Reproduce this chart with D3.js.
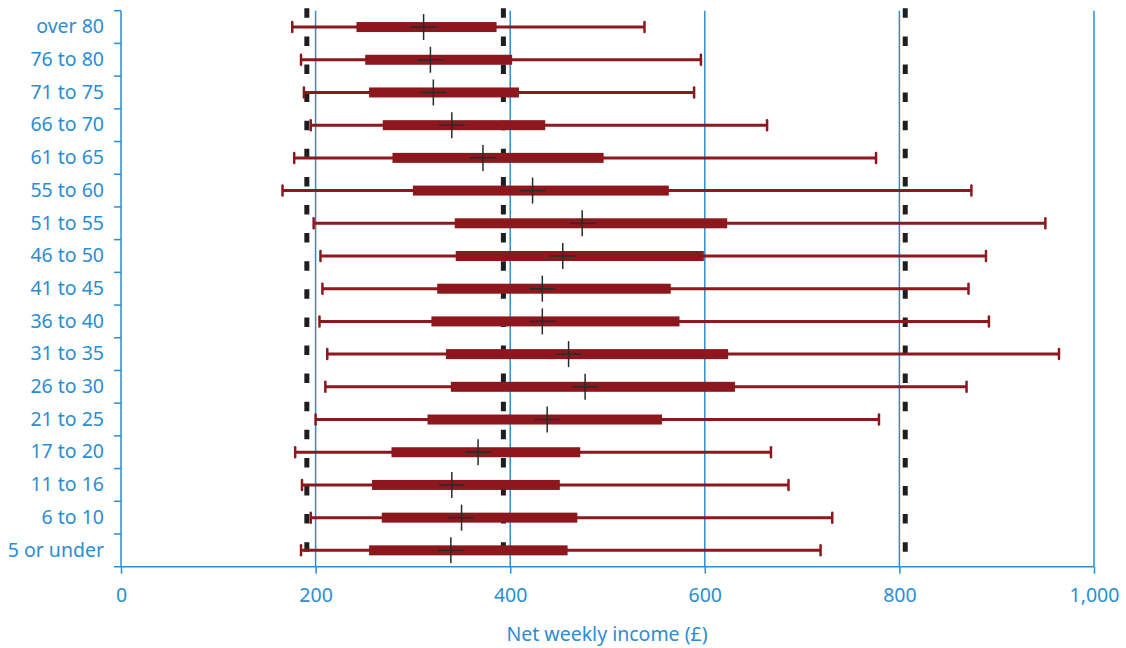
<!DOCTYPE html>
<html>
<head>
<meta charset="utf-8">
<script src="https://cdn.jsdelivr.net/npm/d3@7"></script>
<style>
  body { margin: 0; background: #fff; }
  text { font-family: "Noto Sans", "Open Sans", sans-serif; }
</style>
</head>
<body>
<div class="canvas"></div>
<script>
const svgWidth = 1126;
const svgHeight = 648;

// Age groups, top to bottom
const groups = ['over 80', '76 to 80', '71 to 75', '66 to 70', '61 to 65', '55 to 60', '51 to 55',
    '46 to 50', '41 to 45', '36 to 40', '31 to 35', '26 to 30', '21 to 25', '17 to 20',
    '11 to 16', '6 to 10', '5 or under'];

// Net weekly income (£)
const whiskerLow  = [176, 185, 188, 195, 178, 166, 198, 205, 207, 204, 212, 210, 200, 179, 186, 195, 185];
const boxLow      = [242, 251, 255, 269, 279, 300, 343, 344, 325, 319, 334, 339, 315, 278, 258, 268, 255];
const medians     = [311, 318, 321, 340, 372, 423, 474, 454, 433, 433, 460, 477, 438, 367, 340, 350, 339];
const boxHigh     = [386, 402, 409, 436, 496, 563, 623, 599, 565, 574, 624, 631, 556, 472, 451, 469, 459];
const whiskerHigh = [538, 596, 589, 664, 776, 874, 950, 889, 871, 892, 964, 869, 779, 668, 686, 731, 719];

// Dashed reference lines and axis ticks
const refLines = [191, 393, 806];
const xTicks = [0, 200, 400, 600, 800, 1000];
const xTitle = 'Net weekly income (£)';

const blue = '#2b8dd3';
const red = '#8c181d';

const data = groups.map((g, i) => ({
    group: g, lo: whiskerLow[i], q1: boxLow[i], med: medians[i], q3: boxHigh[i], hi: whiskerHigh[i]
}));

const svg = d3.select('.canvas')
    .append('svg')
    .attr('width', svgWidth)
    .attr('height', svgHeight);

const x = d3.scaleLinear()
    .domain([0, 1000])
    .range([121, 1094]);

const y = d3.scaleBand()
    .domain(groups)
    .range([10.7, 566.7])
    .padding(0);

const plotTop = y.range()[0];
const plotBottom = y.range()[1];

// vertical gridlines
svg.append('g')
    .selectAll('line')
    .data(xTicks.filter(d => d > 0))
    .enter()
    .append('line')
    .attr('x1', d => x(d))
    .attr('x2', d => x(d))
    .attr('y1', plotTop)
    .attr('y2', plotBottom)
    .attr('stroke', blue)
    .attr('stroke-width', 1.5);

// x axis
const xAxisGroup = svg.append('g')
    .attr('transform', `translate(0, ${plotBottom})`)
    .call(d3.axisBottom(x).tickValues(xTicks).tickSize(7).tickPadding(14)
        .tickFormat(d3.format(',')).tickSizeOuter(0));
xAxisGroup.select('.domain').attr('stroke', blue).attr('stroke-width', 1.5)
    .attr('d', `M114,0H${x(1000)}`);
xAxisGroup.selectAll('.tick line').attr('stroke', blue).attr('stroke-width', 1.5);
xAxisGroup.selectAll('.tick text')
    .attr('fill', blue)
    .attr('font-size', 19.5)
    .attr('font-family', '"Noto Sans", sans-serif');

// y axis: labels at band centres, ticks at band edges
const yAxisGroup = svg.append('g')
    .attr('transform', `translate(${x(0)}, 0)`)
    .call(d3.axisLeft(y).tickSize(0).tickPadding(17).tickSizeOuter(0));
yAxisGroup.select('.domain').attr('stroke', blue).attr('stroke-width', 1.5)
    .attr('d', `M0,${plotTop}V${plotBottom}`);
yAxisGroup.selectAll('.tick text')
    .attr('fill', blue)
    .attr('font-size', 19.5)
    .attr('font-family', '"Noto Sans", sans-serif');

yAxisGroup.selectAll('.edge')
    .data(groups)
    .enter()
    .append('line')
    .attr('class', 'edge')
    .attr('x1', -7)
    .attr('x2', 0)
    .attr('y1', d => y(d))
    .attr('y2', d => y(d))
    .attr('stroke', blue)
    .attr('stroke-width', 1.5);

// axis title
svg.append('text')
    .attr('x', 607)
    .attr('y', 641)
    .attr('text-anchor', 'middle')
    .attr('fill', blue)
    .attr('font-size', 19.5)
    .text(xTitle);

// dashed reference lines
svg.append('g')
    .selectAll('line')
    .data(refLines)
    .enter()
    .append('line')
    .attr('x1', d => x(d))
    .attr('x2', d => x(d))
    .attr('y1', 8.3)
    .attr('y2', 570)
    .attr('stroke', '#1e1e1e')
    .attr('stroke-width', 5)
    .attr('stroke-dasharray', '9.5 18.6');

// box-whisker rows
const rows = svg.append('g')
    .selectAll('.row')
    .data(data)
    .enter()
    .append('g')
    .attr('class', 'row')
    .attr('transform', d => `translate(0, ${y(d.group) + y.bandwidth() / 2})`);

rows.append('line')  // whisker
    .attr('x1', d => x(d.lo))
    .attr('x2', d => x(d.hi))
    .attr('stroke', red)
    .attr('stroke-width', 3);

rows.selectAll('.cap')
    .data(d => [d.lo, d.hi])
    .enter()
    .append('line')
    .attr('class', 'cap')
    .attr('x1', v => x(v))
    .attr('x2', v => x(v))
    .attr('y1', -5)
    .attr('y2', 5)
    .attr('stroke', red)
    .attr('stroke-width', 2.5)
    .attr('stroke-linecap', 'round');

rows.append('rect')  // box
    .attr('x', d => x(d.q1))
    .attr('width', d => x(d.q3) - x(d.q1))
    .attr('y', -5)
    .attr('height', 10)
    .attr('fill', red);

// median cross
rows.append('line')
    .attr('x1', d => x(d.med) - 13)
    .attr('x2', d => x(d.med) + 13)
    .attr('stroke', '#2a2a2a')
    .attr('stroke-width', 1.5);
rows.append('line')
    .attr('x1', d => x(d.med))
    .attr('x2', d => x(d.med))
    .attr('y1', -13)
    .attr('y2', 13)
    .attr('stroke', '#2a2a2a')
    .attr('stroke-width', 1.5);
</script>
</body>
</html>
